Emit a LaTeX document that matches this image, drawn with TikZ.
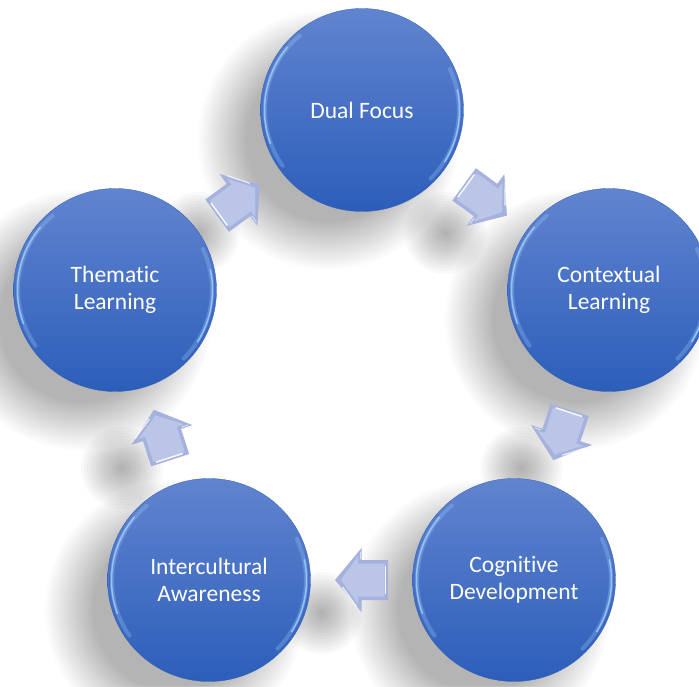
\documentclass[tikz,border=0pt]{standalone}
\usepackage{fontspec}
\setmainfont[Ligatures={NoCommon}]{Carlito}
\usetikzlibrary{calc}
\definecolor{ctop}{RGB}{97,132,207}
\definecolor{cbot}{RGB}{44,94,186}
\definecolor{crim}{RGB}{45,90,178}
\definecolor{chl}{RGB}{165,208,255}
\definecolor{arrowedge}{RGB}{165,178,221}
\definecolor{arrowface}{RGB}{186,197,232}
\newcommand\softshadow[3]{%
  \foreach \d in {-24,-22,...,24}{\fill[black,fill opacity=0.013] ($(#1)+(#2)$) circle ({#3+\d});}}
\tikzset{
  bubble/.style={circle, minimum size=203pt, inner sep=0pt, top color=ctop, bottom color=cbot,
    draw=crim, line width=0.3pt, text=white, align=center,
    font=\fontsize{23.5}{27.5}\selectfont},
  hlwide/.style={draw=chl, line width=4pt, opacity=0.28, line cap=round},
  hlthin/.style={draw=chl, line width=1.5pt, opacity=0.8, line cap=round},
  blockarrow/.pic={
    \fill[arrowedge] (-26.5,-20) -- (0,-20) -- (0,-32) -- (26.5,0) -- (0,32) -- (0,20) -- (-26.5,20) -- cycle;
    \fill[arrowface] (-23,-16.5) -- (3.5,-16.5) -- (3.5,-24) -- (20.5,0) -- (3.5,24) -- (3.5,16.5) -- (-23,16.5) -- cycle;
    \draw[white, line width=1.6pt, opacity=0.9] (-24,-14) -- (-24,14);
    \draw[white, line width=1.2pt, opacity=0.8] (5,26.5) -- (19,7);
    \draw[white, line width=1.0pt, opacity=0.6] (1.5,-21) -- (1.5,-28);
  }
}
\begin{document}
\begin{tikzpicture}[x=1pt,y=1pt]
\useasboundingbox (0,0) rectangle (699,686);
\fill[white] (0,0) rectangle (699,686);
\clip (0,0) rectangle (699,686);
% centres
\coordinate (pdual) at (362,576);
\coordinate (pcont) at (609,396);
\coordinate (pcogn) at (514,106);
\coordinate (pinter) at (209,106);
\coordinate (pthem) at (115,396);
% shadows of circles
\foreach \p in {pdual,pcont,pcogn,pinter,pthem}{\softshadow{\p}{-34,-30}{106}}
% shadows of arrows
\foreach \a/\b in {pthem/pdual,pdual/pcont,pcont/pcogn,pcogn/pinter,pinter/pthem}{
  \foreach \d in {-18,-15,...,21}{\fill[black,fill opacity=0.024] ($($(\a)!0.5!(\b)$)+(-40,-33)$) circle ({20+\d});}}
% circles
\node[bubble] (dual) at (pdual) {Dual Focus};
\node[bubble] (cont) at (pcont) {Contextual\\Learning};
\node[bubble] (cogn) at (pcogn) {Cognitive\\Development};
\node[bubble] (inter) at (pinter) {Intercultural\\Awareness};
\node[bubble] (them) at (pthem) {Thematic\\Learning};
% bevel highlights
\foreach \n in {dual,cont,cogn,inter,them}{
  \draw[hlwide] ([shift={(130:97)}]\n.center) arc[start angle=130, end angle=215, radius=97];
  \draw[hlthin] ([shift={(140:97.5)}]\n.center) arc[start angle=140, end angle=200, radius=97.5];
  \draw[hlwide] ([shift={(-45:97)}]\n.center) arc[start angle=-45, end angle=25, radius=97];
  \draw[hlthin] ([shift={(-32:97.5)}]\n.center) arc[start angle=-32, end angle=12, radius=97.5];
}
% arrows
\pic[rotate=36.1] at ($(them)!0.5!(dual)$) {blockarrow};
\pic[rotate=-36.1] at ($(dual)!0.5!(cont)$) {blockarrow};
\pic[rotate=-108.1] at ($(cont)!0.5!(cogn)$) {blockarrow};
\pic[rotate=180] at ($(cogn)!0.5!(inter)$) {blockarrow};
\pic[rotate=108] at ($(inter)!0.5!(them)$) {blockarrow};
\end{tikzpicture}
\end{document}
